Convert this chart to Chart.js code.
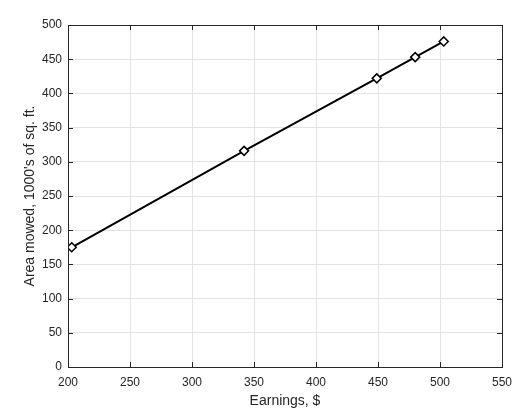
<!DOCTYPE html>
<html>
<head>
<meta charset="utf-8">
<script src="https://cdn.jsdelivr.net/npm/chart.js@4/dist/chart.umd.min.js"></script>
<style>
  html, body { margin: 0; padding: 0; background: #fff; }
  #wrap { width: 523px; height: 412px; }
</style>
</head>
<body>
<div id="wrap"><canvas id="myChart"></canvas></div>
<script>
// values
const earnings = [203, 342, 449, 480, 503];
const areaMowed = [175, 316, 422, 453, 476];
const xTicks = [200, 250, 300, 350, 400, 450, 500, 550];
const yTicks = [0, 50, 100, 150, 200, 250, 300, 350, 400, 450, 500];

const points = earnings.map((x, i) => ({ x: x, y: areaMowed[i] }));

// box round the plot and short ticks pointing inward, like the original
const boxPlugin = {
  id: "box",
  afterDatasetsDraw(chart) {
    const { ctx, chartArea: a, scales } = chart;
    ctx.save();
    ctx.strokeStyle = "#262626";
    ctx.lineWidth = 1;
    ctx.beginPath();
    for (const v of xTicks) {
      const px = Math.round(scales.x.getPixelForValue(v)) + 0.5;
      ctx.moveTo(px, a.bottom);
      ctx.lineTo(px, a.bottom - 5);
      ctx.moveTo(px, a.top);
      ctx.lineTo(px, a.top + 5);
    }
    for (const v of yTicks) {
      const py = Math.round(scales.y.getPixelForValue(v)) + 0.5;
      ctx.moveTo(a.left, py);
      ctx.lineTo(a.left + 5, py);
      ctx.moveTo(a.right, py);
      ctx.lineTo(a.right - 5, py);
    }
    ctx.stroke();
    ctx.strokeRect(Math.round(a.left) + 0.5, Math.round(a.top) + 0.5,
      Math.round(a.right - a.left), Math.round(a.bottom - a.top));
    ctx.restore();
  },
};

const ctx = document.getElementById("myChart");
new Chart(ctx, {
  type: "scatter",
  data: {
    datasets: [
      {
        data: points,
        showLine: true,
        borderColor: "#000",
        borderWidth: 2,
        pointStyle: "rectRot",
        pointRadius: 4.5,
        pointBorderWidth: 1.5,
        pointBackgroundColor: "#fff",
        pointBorderColor: "#000",
      },
    ],
  },
  options: {
    responsive: true,
    maintainAspectRatio: false,
    animation: false,
    layout: { padding: { top: 25, right: 21, left: 0, bottom: 0 } },
    plugins: { legend: { display: false }, tooltip: { enabled: false } },
    scales: {
      x: {
        type: "linear",
        min: 200,
        max: 550,
        afterBuildTicks: (s) => { s.ticks = xTicks.map((v) => ({ value: v })); },
        afterFit: (s) => { s.height = 45; },
        grid: { color: "#e3e3e3", drawTicks: false },
        border: { display: false },
        ticks: { padding: 8, color: "#262626", font: { family: "Liberation Sans", size: 12 } },
        title: {
          display: true,
          text: "Earnings, $",
          color: "#262626",
          padding: { top: 0, bottom: 2 },
          font: { family: "Liberation Sans", size: 14 },
        },
      },
      y: {
        type: "linear",
        min: 0,
        max: 500,
        afterBuildTicks: (s) => { s.ticks = yTicks.map((v) => ({ value: v })); },
        afterFit: (s) => { s.width = 68; },
        grid: { color: "#e3e3e3", drawTicks: false },
        border: { display: false },
        ticks: { padding: 6, color: "#262626", font: { family: "Liberation Sans", size: 12 } },
        title: {
          display: true,
          text: "Area mowed, 1000's of sq. ft.",
          color: "#262626",
          padding: { top: 22, bottom: 0 },
          font: { family: "Liberation Sans", size: 14 },
        },
      },
    },
  },
  plugins: [boxPlugin],
});
</script>
</body>
</html>
